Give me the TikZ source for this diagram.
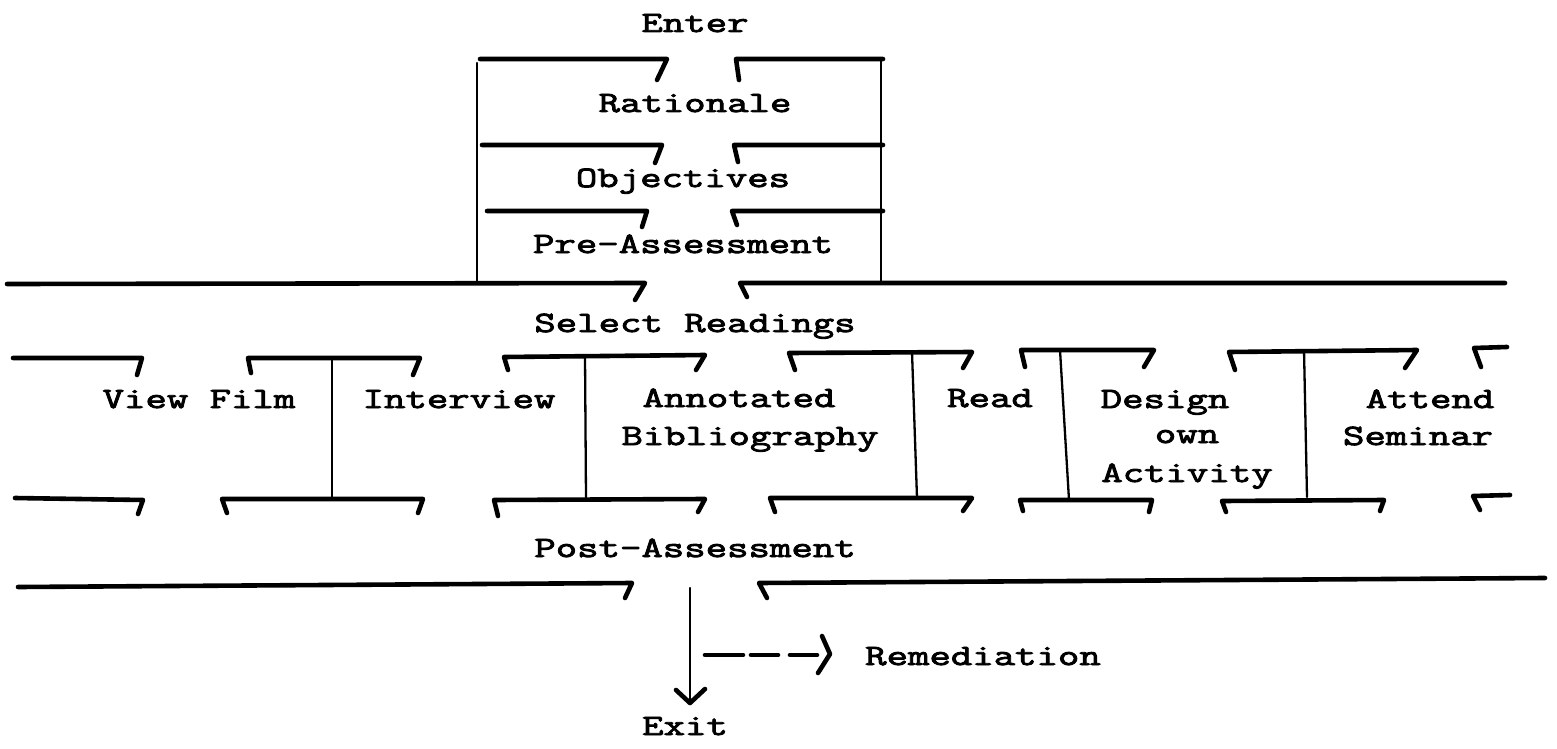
\documentclass[tikz,border=0pt]{standalone}
\usepackage{fontspec}
\newfontfamily\tw{Latin Modern Mono}[FakeStretch=1.41,FakeBold=3]
\begin{document}
\begin{tikzpicture}[x=1pt,y=-1pt,
  hl/.style={line width=4.6pt,line cap=round,line join=round},
  vl/.style={line width=2.3pt,line cap=round},
  lbl/.style={font=\tw\fontsize{29.5}{31}\selectfont,anchor=base,inner sep=0pt}]
\useasboundingbox[fill=white] (0,0) rectangle (1557,749);
% ---- labels
\node[lbl] (enter) at (695,32) {Enter};
\node[lbl] (rat) at (695,112) {Rationale};
\node[lbl] (obj) at (683,187) {Objectives};
\node[lbl] (pre) at (683,253) {Pre-Assessment};
\node[lbl] (sel) at (695,332) {Select Readings};
\node[lbl] (film) at (199,408) {View Film};
\node[lbl] (intv) at (459,408) {Interview};
\node[lbl] (ann) at (739,407) {Annotated};
\node[lbl] (bib) at (750,445) {Bibliography};
\node[lbl] (read) at (990,407) {Read};
\node[lbl] (des) at (1165,408) {Design};
\node[lbl] (own) at (1187,443) {own};
\node[lbl] (act) at (1187,482) {Activity};
\node[lbl] (att) at (1430,408) {Attend};
\node[lbl] (sem) at (1418,445) {Seminar};
\node[lbl] (post) at (695,557) {Post-Assessment};
\node[lbl] (rem) at (983,665) {Remediation};
\node[lbl] (exit) at (685,735) {Exit};
% ---- top block
\draw[hl] (480,59)--(667,59)--(657,80);
\draw[hl] (739,80)--(736,59)--(883,59);
\draw[hl] (482,145)--(662,145)--(655,163);
\draw[hl] (738,162)--(734,145)--(883,145);
\draw[hl] (487,211)--(647,211)--(642,227);
\draw[hl] (737,225)--(732,211)--(883,211);
\draw[vl] (477,63)--(477,283);
\draw[vl] (881,59)--(881,283);
\draw[hl] (7,284)--(645,283)--(635,300);
\draw[hl] (747,297)--(740,283)--(1505,283);
% ---- row A
\draw[hl] (13,358)--(142,358)--(137,375);
\draw[hl] (251,373)--(248,358)--(420,358)--(413,375);
\draw[hl] (508,370)--(504,357)--(705,355)--(696,370);
\draw[hl] (795,370)--(789,353)--(972,352)--(963,368);
\draw[hl] (1025,367)--(1021,350)--(1154,350)--(1144,367);
\draw[hl] (1235,370)--(1229,352)--(1417,350)--(1405,368);
\draw[hl] (1481,367)--(1474,348)--(1507,347);
% ---- verticals
\draw[vl] (332,358)--(332,498);
\draw[vl] (585,356)--(586,499);
\draw[vl] (912,352)--(917,498);
\draw[vl] (1060,350)--(1069,500);
\draw[vl] (1304,350)--(1307,497);
% ---- row B
\draw[hl] (15,498)--(143,500)--(138,514);
\draw[hl] (227,513)--(222,499)--(423,499)--(418,513);
\draw[hl] (498,516)--(494,500)--(705,499)--(698,512);
\draw[hl] (775,512)--(770,498)--(972,498)--(963,511);
\draw[hl] (1023,511)--(1020,500)--(1152,500)--(1149,512);
\draw[hl] (1226,512)--(1222,501)--(1384,500)--(1380,511);
\draw[hl] (1480,510)--(1473,496)--(1510,495);
% ---- bottom line
\draw[hl] (18,587)--(632,583)--(625,598);
\draw[hl] (767,598)--(759,583)--(1545,578);
% ---- exit and remediation
\coordinate (ex0) at (690,588);
\coordinate (ex1) at (690,703);
\draw[vl] (ex0)--(ex1);
\draw[hl] (676,690)--(ex1)--(705,689);
\draw[hl] (705,655)--(743,655);
\draw[hl] (751,655)--(778,655);
\draw[hl] (790,655)--(817,655);
\draw[hl] (822,636)--(830,654)--(818,673);
\end{tikzpicture}
\end{document}
